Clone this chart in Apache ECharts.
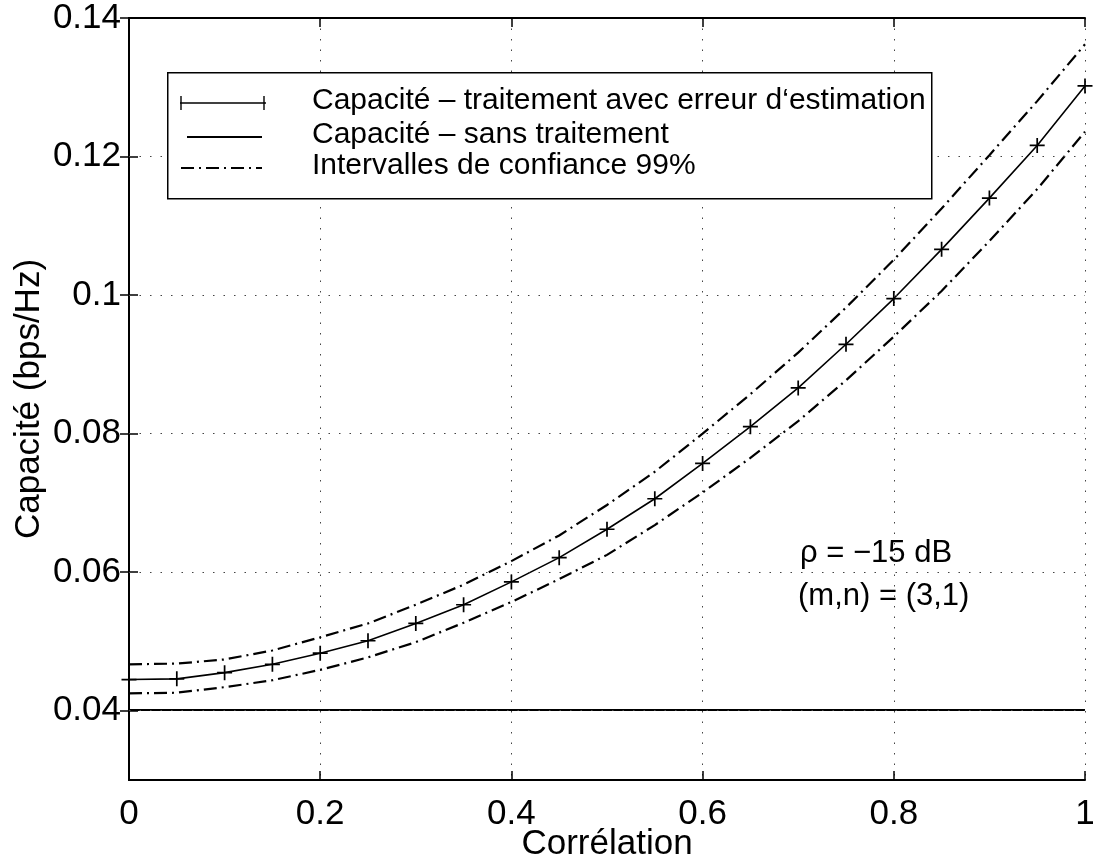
<!DOCTYPE html>
<html>
<head>
<meta charset="utf-8">
<script src="https://cdn.jsdelivr.net/npm/echarts@6/dist/echarts.min.js"></script>
<style>html,body{margin:0;padding:0;background:#fff;}#c{width:1094px;height:865px;}</style>
</head>
<body>
<div id="c"></div>
<script>
// ---- data ----
const seriesNames = [
  "Capacité – traitement avec erreur d‘estimation",
  "Capacité – sans traitement",
  "Intervalles de confiance 99%"
];
const correlation = [0,0.05,0.1,0.15,0.2,0.25,0.3,0.35,0.4,0.45,0.5,0.55,0.6,0.65,0.7,0.75,0.8,0.85,0.9,0.95,1];
const capWithError = [0.0445,0.0446,0.0455,0.0467,0.0483,0.0501,0.0526,0.0553,0.0586,0.0621,0.0662,0.0706,0.0757,0.0810,0.0866,0.0929,0.0995,0.1066,0.1140,0.1216,0.1302];
const capNoProcessing = [0.0401,0.0401,0.0401,0.0401,0.0401,0.0401,0.0401,0.0401,0.0401,0.0401,0.0401,0.0401,0.0401,0.0401,0.0401,0.0401,0.0401,0.0401,0.0401,0.0401,0.0401];
const ciUpper = [0.0467,0.0468,0.0474,0.0487,0.0506,0.0526,0.0553,0.0582,0.0616,0.0653,0.0697,0.0745,0.0800,0.0857,0.0917,0.0982,0.1051,0.1125,0.1202,0.1280,0.1362];
const ciLower = [0.0425,0.0426,0.0434,0.0444,0.0459,0.0477,0.0499,0.0527,0.0557,0.0590,0.0625,0.0668,0.0715,0.0765,0.0818,0.0877,0.0940,0.1006,0.1078,0.1153,0.1236];
const yTicks = [0.04,0.06,0.08,0.1,0.12,0.14];
const yGrid = [0.04,0.06,0.08,0.1,0.12];
const annotation = ["ρ = −15 dB", "(m,n) = (3,1)"];

const pair = (xs, ys) => xs.map((x, i) => [x, ys[i]]);
const FONT = '"Liberation Sans", Arial, Helvetica, sans-serif';
const plusPath = 'path://M6.2,0H7.8V6.2H14V7.8H7.8V14H6.2V7.8H0V6.2H6.2Z';
const dashDot = [13, 5, 2, 5];

const chart = echarts.init(document.getElementById('c'), null, {renderer: 'canvas'});

const axisLineStyle = {color: '#000', width: 2};
const tickStyle = {show: true, inside: true, length: 9, lineStyle: {color: '#000', width: 1.5}};
const dotted = {color: '#444', width: 1, type: [1.5, 9]};

const option = {
  backgroundColor: '#fff',
  animation: false,
  grid: {left: 129, right: 9, top: 18, bottom: 85, containLabel: false, outerBoundsMode: 'none'},
  xAxis: [{
    type: 'value', min: 0, max: 1, interval: 0.2,
    name: 'Corrélation', nameLocation: 'middle', nameGap: 47, nameMoveOverlap: false,
    nameTextStyle: {fontFamily: FONT, fontSize: 35, color: '#000'},
    axisLine: {show: true, lineStyle: axisLineStyle},
    axisTick: tickStyle,
    axisLabel: {fontFamily: FONT, fontSize: 35, color: '#000', margin: 17},
    splitLine: {show: true, lineStyle: dotted}
  }, {
    type: 'value', min: 0, max: 1, interval: 0.2, position: 'top',
    axisLine: {show: true, lineStyle: axisLineStyle},
    axisTick: tickStyle, axisLabel: {show: false}, splitLine: {show: false}
  }],
  yAxis: [{
    type: 'value', min: 0.03, max: 0.14, interval: 0.01,
    name: 'Capacité (bps/Hz)', nameLocation: 'middle', nameGap: 82, nameMoveOverlap: false,
    nameTextStyle: {fontFamily: FONT, fontSize: 35, color: '#000'},
    axisLine: {show: true, lineStyle: axisLineStyle},
    axisTick: Object.assign({}, tickStyle, {customValues: yTicks}),
    axisLabel: {fontFamily: FONT, fontSize: 35, color: '#000', margin: 8, customValues: yTicks,
      formatter: v => String(+v.toFixed(2))},
    splitLine: {show: false}
  }, {
    type: 'value', min: 0.03, max: 0.14, interval: 0.01, position: 'right',
    axisLine: {show: true, lineStyle: axisLineStyle},
    axisTick: Object.assign({}, tickStyle, {customValues: yTicks}),
    axisLabel: {show: false}, splitLine: {show: false}
  }],
  series: [
    {
      name: seriesNames[1], type: 'line', data: pair(correlation, capNoProcessing),
      showSymbol: false, symbol: 'none', lineStyle: {color: '#000', width: 2}, z: 3,
      markLine: {
        silent: true, symbol: ['none', 'none'], label: {show: false},
        lineStyle: dotted, animation: false,
        data: yGrid.map(v => ({yAxis: v}))
      }
    },
    {
      name: seriesNames[0], type: 'line', data: pair(correlation, capWithError),
      symbol: plusPath, symbolSize: 15, showAllSymbol: true,
      itemStyle: {color: '#000'},
      lineStyle: {color: '#000', width: 1.6}, z: 4
    },
    {
      name: seriesNames[2], type: 'line', data: pair(correlation, ciUpper),
      symbol: 'none', lineStyle: {color: '#000', width: 2.2, type: dashDot}, z: 3
    },
    {
      name: seriesNames[2] + ' (inf.)', type: 'line', data: pair(correlation, ciLower),
      symbol: 'none', lineStyle: {color: '#000', width: 2.2, type: dashDot}, z: 3
    }
  ],
  graphic: [
    {type: 'rect', left: 167, top: 72, shape: {width: 764, height: 126},
      style: {fill: '#fff', stroke: '#000', lineWidth: 1.5}, z: 100},
    {type: 'line', shape: {x1: 180, y1: 103, x2: 266, y2: 103}, style: {stroke: '#000', lineWidth: 1.6}, z: 101},
    {type: 'line', shape: {x1: 181, y1: 96, x2: 181, y2: 110}, style: {stroke: '#000', lineWidth: 1.4}, z: 101},
    {type: 'line', shape: {x1: 264, y1: 96, x2: 264, y2: 110}, style: {stroke: '#000', lineWidth: 1.4}, z: 101},
    {type: 'line', shape: {x1: 187, y1: 137, x2: 262, y2: 137}, style: {stroke: '#000', lineWidth: 2}, z: 101},
    {type: 'line', shape: {x1: 181, y1: 168, x2: 262, y2: 168}, style: {stroke: '#000', lineWidth: 2, lineDash: dashDot}, z: 101},
    {type: 'text', x: 312, y: 101, style: {text: seriesNames[0], font: '30px ' + FONT, fill: '#000', verticalAlign: 'middle'}, z: 101},
    {type: 'text', x: 312, y: 135, style: {text: seriesNames[1], font: '30px ' + FONT, fill: '#000', verticalAlign: 'middle'}, z: 101},
    {type: 'text', x: 312, y: 166, style: {text: seriesNames[2], font: '30px ' + FONT, fill: '#000', verticalAlign: 'middle'}, z: 101},
    {type: 'text', x: 800, y: 553, style: {text: annotation[0], font: '31px ' + FONT, fill: '#000', verticalAlign: 'middle'}, z: 101},
    {type: 'text', x: 798, y: 596, style: {text: annotation[1], font: '31px ' + FONT, fill: '#000', verticalAlign: 'middle'}, z: 101}
  ]
};
chart.setOption(option);
</script>
</body>
</html>
